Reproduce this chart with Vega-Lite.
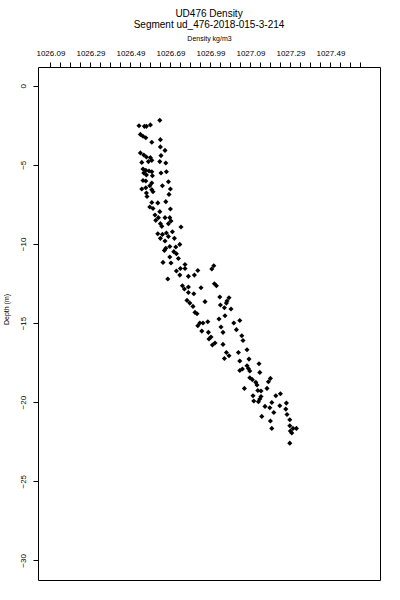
{
  "$schema": "https://vega.github.io/schema/vega-lite/v6.json",
  "autosize": {"type": "none"},
  "padding": {"left": 38, "top": 67, "right": 20, "bottom": 20},
  "width": 342,
  "height": 513,
  "background": "white",
  "config": {
    "font": "Liberation Sans",
    "view": {"stroke": "black", "strokeWidth": 1}
  },
  "title": {
    "text": ["UD476 Density", "Segment ud_476-2018-015-3-214"],
    "fontSize": 10,
    "fontWeight": "normal",
    "font": "Liberation Sans",
    "color": "black",
    "anchor": "middle",
    "lineHeight": 11,
    "offset": 4
  },
  "data": {
    "values": [
      {"density": 1026.533, "depth": -2.53},
      {"density": 1026.56, "depth": -2.57},
      {"density": 1026.57, "depth": -2.57},
      {"density": 1026.59, "depth": -2.48},
      {"density": 1026.637, "depth": -2.19},
      {"density": 1026.54, "depth": -3.08},
      {"density": 1026.553, "depth": -3.2},
      {"density": 1026.567, "depth": -3.29},
      {"density": 1026.597, "depth": -3.58},
      {"density": 1026.64, "depth": -3.41},
      {"density": 1026.64, "depth": -3.87},
      {"density": 1026.663, "depth": -4.09},
      {"density": 1026.643, "depth": -4.42},
      {"density": 1026.54, "depth": -4.25},
      {"density": 1026.557, "depth": -4.38},
      {"density": 1026.57, "depth": -4.51},
      {"density": 1026.59, "depth": -4.55},
      {"density": 1026.597, "depth": -4.72},
      {"density": 1026.58, "depth": -4.8},
      {"density": 1026.547, "depth": -4.85},
      {"density": 1026.637, "depth": -4.8},
      {"density": 1026.667, "depth": -4.89},
      {"density": 1026.553, "depth": -5.27},
      {"density": 1026.567, "depth": -5.35},
      {"density": 1026.583, "depth": -5.39},
      {"density": 1026.597, "depth": -5.44},
      {"density": 1026.557, "depth": -5.52},
      {"density": 1026.6, "depth": -5.69},
      {"density": 1026.643, "depth": -5.52},
      {"density": 1026.67, "depth": -5.44},
      {"density": 1026.57, "depth": -5.64},
      {"density": 1026.567, "depth": -6.02},
      {"density": 1026.553, "depth": -5.99},
      {"density": 1026.597, "depth": -6.15},
      {"density": 1026.587, "depth": -6.32},
      {"density": 1026.65, "depth": -6.32},
      {"density": 1026.68, "depth": -6.07},
      {"density": 1026.547, "depth": -6.53},
      {"density": 1026.567, "depth": -6.45},
      {"density": 1026.597, "depth": -6.57},
      {"density": 1026.603, "depth": -6.7},
      {"density": 1026.69, "depth": -6.53},
      {"density": 1026.57, "depth": -6.78},
      {"density": 1026.683, "depth": -6.87},
      {"density": 1026.573, "depth": -7.0},
      {"density": 1026.627, "depth": -7.41},
      {"density": 1026.667, "depth": -7.33},
      {"density": 1026.597, "depth": -7.38},
      {"density": 1026.587, "depth": -7.67},
      {"density": 1026.603, "depth": -7.76},
      {"density": 1026.637, "depth": -7.96},
      {"density": 1026.69, "depth": -7.79},
      {"density": 1026.613, "depth": -8.17},
      {"density": 1026.63, "depth": -8.34},
      {"density": 1026.663, "depth": -8.34},
      {"density": 1026.687, "depth": -8.34},
      {"density": 1026.617, "depth": -8.51},
      {"density": 1026.64, "depth": -8.72},
      {"density": 1026.693, "depth": -8.55},
      {"density": 1026.647, "depth": -8.89},
      {"density": 1026.68, "depth": -8.72},
      {"density": 1026.743, "depth": -8.93},
      {"density": 1026.627, "depth": -9.36},
      {"density": 1026.65, "depth": -9.4},
      {"density": 1026.67, "depth": -9.31},
      {"density": 1026.7, "depth": -9.23},
      {"density": 1026.68, "depth": -9.53},
      {"density": 1026.71, "depth": -9.65},
      {"density": 1026.663, "depth": -9.82},
      {"density": 1026.64, "depth": -9.65},
      {"density": 1026.737, "depth": -10.03},
      {"density": 1026.717, "depth": -10.2},
      {"density": 1026.667, "depth": -10.28},
      {"density": 1026.687, "depth": -10.16},
      {"density": 1026.66, "depth": -10.41},
      {"density": 1026.707, "depth": -10.49},
      {"density": 1026.72, "depth": -10.62},
      {"density": 1026.687, "depth": -10.83},
      {"density": 1026.73, "depth": -10.92},
      {"density": 1026.653, "depth": -11.17},
      {"density": 1026.693, "depth": -11.21},
      {"density": 1026.763, "depth": -11.3},
      {"density": 1026.74, "depth": -11.55},
      {"density": 1026.72, "depth": -11.71},
      {"density": 1026.763, "depth": -11.55},
      {"density": 1026.737, "depth": -11.97},
      {"density": 1026.78, "depth": -12.05},
      {"density": 1026.827, "depth": -11.68},
      {"density": 1026.81, "depth": -11.97},
      {"density": 1026.907, "depth": -11.38},
      {"density": 1026.897, "depth": -11.59},
      {"density": 1026.677, "depth": -12.22},
      {"density": 1026.75, "depth": -12.64},
      {"density": 1026.76, "depth": -12.85},
      {"density": 1026.78, "depth": -12.72},
      {"density": 1026.78, "depth": -13.07},
      {"density": 1026.807, "depth": -13.15},
      {"density": 1026.843, "depth": -12.77},
      {"density": 1026.91, "depth": -12.52},
      {"density": 1026.92, "depth": -12.64},
      {"density": 1026.773, "depth": -13.57},
      {"density": 1026.787, "depth": -13.74},
      {"density": 1026.803, "depth": -13.95},
      {"density": 1026.813, "depth": -14.33},
      {"density": 1026.823, "depth": -14.41},
      {"density": 1026.863, "depth": -13.65},
      {"density": 1026.937, "depth": -13.36},
      {"density": 1026.983, "depth": -13.4},
      {"density": 1026.973, "depth": -13.61},
      {"density": 1026.97, "depth": -13.74},
      {"density": 1026.94, "depth": -13.86},
      {"density": 1026.96, "depth": -14.03},
      {"density": 1026.993, "depth": -14.11},
      {"density": 1026.963, "depth": -14.54},
      {"density": 1026.933, "depth": -14.75},
      {"density": 1027.007, "depth": -15.0},
      {"density": 1027.037, "depth": -14.84},
      {"density": 1026.837, "depth": -15.0},
      {"density": 1026.853, "depth": -15.0},
      {"density": 1026.877, "depth": -14.92},
      {"density": 1026.827, "depth": -15.17},
      {"density": 1026.847, "depth": -15.51},
      {"density": 1026.88, "depth": -15.59},
      {"density": 1026.893, "depth": -15.88},
      {"density": 1026.883, "depth": -16.01},
      {"density": 1026.943, "depth": -15.25},
      {"density": 1026.953, "depth": -15.59},
      {"density": 1027.02, "depth": -15.42},
      {"density": 1027.047, "depth": -15.8},
      {"density": 1027.053, "depth": -16.1},
      {"density": 1026.9, "depth": -16.39},
      {"density": 1026.913, "depth": -16.26},
      {"density": 1026.953, "depth": -16.35},
      {"density": 1026.97, "depth": -16.86},
      {"density": 1026.983, "depth": -17.07},
      {"density": 1026.96, "depth": -17.24},
      {"density": 1027.03, "depth": -16.86},
      {"density": 1027.073, "depth": -16.69},
      {"density": 1027.037, "depth": -17.4},
      {"density": 1027.083, "depth": -17.28},
      {"density": 1027.073, "depth": -17.7},
      {"density": 1027.08, "depth": -17.87},
      {"density": 1027.087, "depth": -18.03},
      {"density": 1027.133, "depth": -17.57},
      {"density": 1027.037, "depth": -18.0},
      {"density": 1027.05, "depth": -17.91},
      {"density": 1027.137, "depth": -18.12},
      {"density": 1027.087, "depth": -18.46},
      {"density": 1027.1, "depth": -18.58},
      {"density": 1027.117, "depth": -18.75},
      {"density": 1027.123, "depth": -18.92},
      {"density": 1027.19, "depth": -18.5},
      {"density": 1027.18, "depth": -18.71},
      {"density": 1027.06, "depth": -19.13},
      {"density": 1027.127, "depth": -19.26},
      {"density": 1027.143, "depth": -19.3},
      {"density": 1027.173, "depth": -19.13},
      {"density": 1027.103, "depth": -19.6},
      {"density": 1027.107, "depth": -19.93},
      {"density": 1027.13, "depth": -19.97},
      {"density": 1027.143, "depth": -19.64},
      {"density": 1027.137, "depth": -19.8},
      {"density": 1027.217, "depth": -19.6},
      {"density": 1027.24, "depth": -19.47},
      {"density": 1027.197, "depth": -20.02},
      {"density": 1027.163, "depth": -20.27},
      {"density": 1027.187, "depth": -20.35},
      {"density": 1027.207, "depth": -20.65},
      {"density": 1027.237, "depth": -20.23},
      {"density": 1027.27, "depth": -20.06},
      {"density": 1027.267, "depth": -20.44},
      {"density": 1027.273, "depth": -20.78},
      {"density": 1027.147, "depth": -20.9},
      {"density": 1027.19, "depth": -21.19},
      {"density": 1027.197, "depth": -21.66},
      {"density": 1027.287, "depth": -21.11},
      {"density": 1027.287, "depth": -21.49},
      {"density": 1027.29, "depth": -21.83},
      {"density": 1027.303, "depth": -21.66},
      {"density": 1027.32, "depth": -21.66},
      {"density": 1027.297, "depth": -21.95},
      {"density": 1027.287, "depth": -22.59}
    ]
  },
  "mark": {"type": "point", "shape": "diamond", "filled": true, "color": "black", "opacity": 1, "size": 26},
  "encoding": {
    "x": {
      "field": "density",
      "type": "quantitative",
      "scale": {"domain": [1026.028, 1027.738], "nice": false, "zero": false},
      "axis": {
        "orient": "top",
        "title": "Density kg/m3",
        "titleFont": "Liberation Sans",
        "titleFontSize": 7,
        "titleFontWeight": "normal",
        "titleColor": "black",
        "titlePadding": 8,
        "values": [1026.09, 1026.14, 1026.19, 1026.24, 1026.29, 1026.34, 1026.39, 1026.44, 1026.49, 1026.54, 1026.59, 1026.64, 1026.69, 1026.74, 1026.79, 1026.84, 1026.89, 1026.94, 1026.99, 1027.04, 1027.09, 1027.14, 1027.19, 1027.24, 1027.29, 1027.34, 1027.39, 1027.44, 1027.49, 1027.54, 1027.59, 1027.64],
        "labelExpr": "indexof(['1026.09','1026.29','1026.49','1026.69','1027.09','1027.29','1027.49'], format(datum.value, '.2f')) >= 0 ? format(datum.value, '.2f') : (format(datum.value, '.2f') == '1026.89' ? '1026.99' : '')",
        "labelFont": "Liberation Sans",
        "labelFontSize": 8,
        "labelColor": "black",
        "labelPadding": 5,
        "labelOverlap": false,
        "labelFlush": false,
        "tickColor": "black",
        "tickSize": 5,
        "domain": false,
        "grid": false
      }
    },
    "y": {
      "field": "depth",
      "type": "quantitative",
      "scale": {"domain": [-31.24, 1.18], "nice": false, "zero": false},
      "axis": {
        "orient": "left",
        "title": "Depth (m)",
        "titleFont": "Liberation Sans",
        "titleFontSize": 7,
        "titleFontWeight": "normal",
        "titleColor": "black",
        "titleX": -32,
        "titleY": 242,
        "titleAngle": 270,
        "titleAlign": "center",
        "titleBaseline": "middle",
        "values": [0, -5, -10, -15, -20, -25, -30],
        "labelAngle": 270,
        "labelAlign": "center",
        "labelBaseline": "bottom",
        "labelFont": "Liberation Sans",
        "labelFontSize": 8,
        "labelColor": "black",
        "labelPadding": 6,
        "labelOverlap": false,
        "labelFlush": false,
        "tickColor": "black",
        "tickSize": 5,
        "domain": false,
        "grid": false
      }
    }
  }
}
